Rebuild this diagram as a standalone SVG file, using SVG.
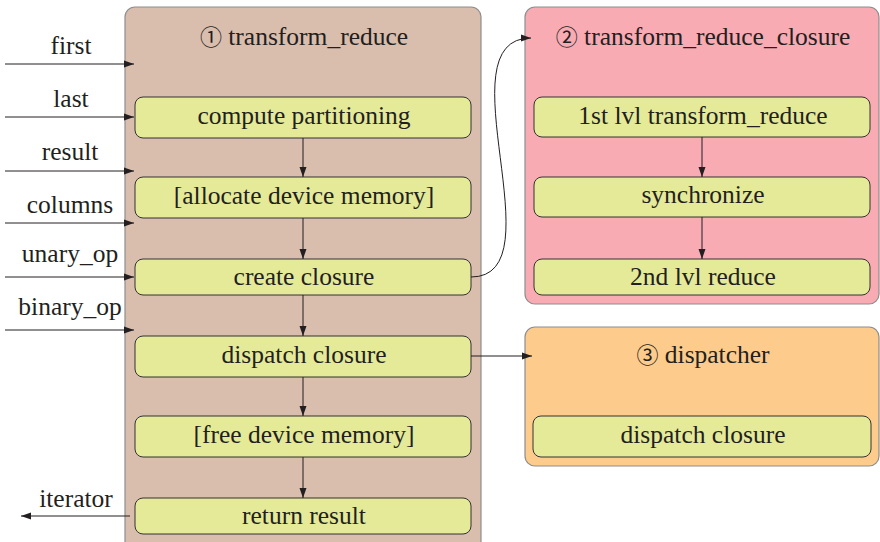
<svg xmlns="http://www.w3.org/2000/svg" width="880" height="542" viewBox="0 0 880 542">
<style>
.c1{fill:#d9bdad;stroke:#8e8e8e;stroke-width:1.2}
.c2{fill:#f8abb3;stroke:#8e8e8e;stroke-width:1.2}
.c3{fill:#fdcb8b;stroke:#8e8e8e;stroke-width:1.2}
.b{fill:#e5ea98;stroke:#333;stroke-width:1}
.e{fill:none;stroke:#231f20;stroke-width:1}
</style>
<defs>
<marker id="ah" viewBox="0 0 10 10" refX="10" refY="5" markerWidth="10" markerHeight="10" markerUnits="userSpaceOnUse" orient="auto">
<path d="M0,1.5 L10,5 L0,8.5 Z" fill="#231f20"/>
</marker>
</defs>
<g id="transform_reduce">
<rect class="c1" x="125" y="7" width="356" height="545" rx="10"/>
<text x="304" y="45" font-family="Liberation Serif" font-size="25.5" fill="#231f20" text-anchor="middle"><tspan font-family="Noto Sans CJK SC" font-size="22">①</tspan> transform_reduce</text>
</g>
<g id="transform_reduce_closure">
<rect class="c2" x="525" y="7" width="354" height="297" rx="10"/>
<text x="703" y="45" font-family="Liberation Serif" font-size="25.5" fill="#231f20" text-anchor="middle"><tspan font-family="Noto Sans CJK SC" font-size="22">②</tspan> transform_reduce_closure</text>
</g>
<g id="dispatcher">
<rect class="c3" x="525" y="327" width="354" height="139" rx="10"/>
<text x="703" y="363" font-family="Liberation Serif" font-size="25.5" fill="#231f20" text-anchor="middle"><tspan font-family="Noto Sans CJK SC" font-size="22">③</tspan> dispatcher</text>
</g>
<g id="compute_partitioning"><rect class="b" x="135" y="97" width="336" height="41" rx="8"/><text x="304" y="124" font-family="Liberation Serif" font-size="25.5" fill="#231f20" text-anchor="middle">compute partitioning</text></g>
<g id="allocate"><rect class="b" x="135" y="177" width="336" height="41" rx="8"/><text x="304" y="204" font-family="Liberation Serif" font-size="25.5" fill="#231f20" text-anchor="middle">[allocate device memory]</text></g>
<g id="create_closure"><rect class="b" x="135" y="259" width="336" height="36" rx="8"/><text x="304" y="285" font-family="Liberation Serif" font-size="25.5" fill="#231f20" text-anchor="middle">create closure</text></g>
<g id="dispatch_closure"><rect class="b" x="135" y="336" width="336" height="41" rx="8"/><text x="304" y="363" font-family="Liberation Serif" font-size="25.5" fill="#231f20" text-anchor="middle">dispatch closure</text></g>
<g id="free"><rect class="b" x="135" y="416" width="336" height="41" rx="8"/><text x="304" y="443" font-family="Liberation Serif" font-size="25.5" fill="#231f20" text-anchor="middle">[free device memory]</text></g>
<g id="return_result"><rect class="b" x="135" y="498" width="336" height="36" rx="8"/><text x="304" y="524" font-family="Liberation Serif" font-size="25.5" fill="#231f20" text-anchor="middle">return result</text></g>
<g id="first_lvl"><rect class="b" x="534" y="97" width="336" height="40" rx="8"/><text x="703" y="124" font-family="Liberation Serif" font-size="25.5" fill="#231f20" text-anchor="middle">1st lvl transform_reduce</text></g>
<g id="synchronize"><rect class="b" x="534" y="177" width="336" height="40" rx="8"/><text x="703" y="203" font-family="Liberation Serif" font-size="25.5" fill="#231f20" text-anchor="middle">synchronize</text></g>
<g id="second_lvl"><rect class="b" x="534" y="259" width="336" height="36" rx="8"/><text x="703" y="285" font-family="Liberation Serif" font-size="25.5" fill="#231f20" text-anchor="middle">2nd lvl reduce</text></g>
<g id="dispatch_closure_2"><rect class="b" x="533" y="416" width="338" height="41" rx="8"/><text x="703" y="443" font-family="Liberation Serif" font-size="25.5" fill="#231f20" text-anchor="middle">dispatch closure</text></g>
<g id="labels">
<text x="71" y="54" font-family="Liberation Serif" font-size="25.5" fill="#231f20" text-anchor="middle">first</text>
<text x="71" y="107" font-family="Liberation Serif" font-size="25.5" fill="#231f20" text-anchor="middle">last</text>
<text x="70" y="160" font-family="Liberation Serif" font-size="25.5" fill="#231f20" text-anchor="middle">result</text>
<text x="70" y="213" font-family="Liberation Serif" font-size="25.5" fill="#231f20" text-anchor="middle">columns</text>
<text x="70" y="262" font-family="Liberation Serif" font-size="25.5" fill="#231f20" text-anchor="middle">unary_op</text>
<text x="70" y="315" font-family="Liberation Serif" font-size="25.5" fill="#231f20" text-anchor="middle">binary_op</text>
<text x="76" y="507" font-family="Liberation Serif" font-size="25.5" fill="#231f20" text-anchor="middle">iterator</text>
</g>
<g id="connectors">
<path class="e" marker-end="url(#ah)" d="M5,64 H134"/>
<path class="e" marker-end="url(#ah)" d="M5,117 H134"/>
<path class="e" marker-end="url(#ah)" d="M5,171 H134"/>
<path class="e" marker-end="url(#ah)" d="M5,223 H134"/>
<path class="e" marker-end="url(#ah)" d="M5,277 H134"/>
<path class="e" marker-end="url(#ah)" d="M5,330 H134"/>
<path class="e" marker-end="url(#ah)" d="M130,516 H21"/>
<path class="e" marker-end="url(#ah)" d="M303,138 V177"/>
<path class="e" marker-end="url(#ah)" d="M303,218 V259"/>
<path class="e" marker-end="url(#ah)" d="M303,295 V336"/>
<path class="e" marker-end="url(#ah)" d="M303,377 V416"/>
<path class="e" marker-end="url(#ah)" d="M303,457 V498"/>
<path class="e" marker-end="url(#ah)" d="M702,137 V177"/>
<path class="e" marker-end="url(#ah)" d="M702,217 V259"/>
<path class="e" marker-end="url(#ah)" d="M471,356 H532"/>
<path class="e" marker-end="url(#ah)" d="M471,277 C560,277 440,38 531,38"/>
</g>
</svg>
